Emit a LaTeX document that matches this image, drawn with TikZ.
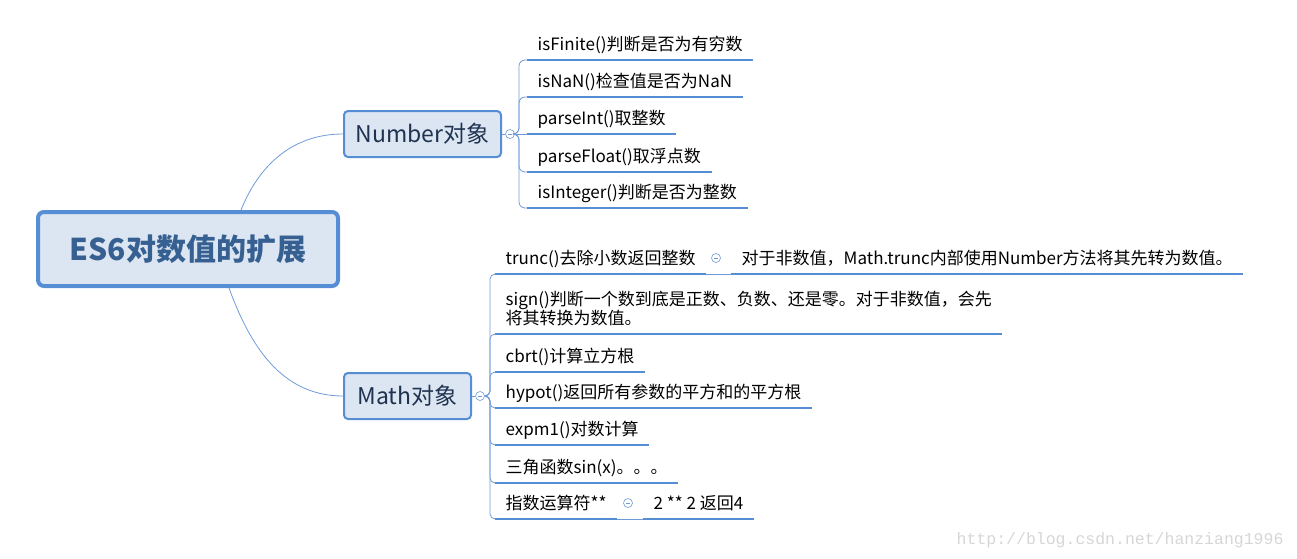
\documentclass[tikz,border=0pt]{standalone}
\usepackage{fontspec}
\setmainfont{Noto Sans CJK SC}
\newfontfamily\markfont{Liberation Mono}
\usetikzlibrary{calc}
\definecolor{boxB}{HTML}{558ED5}
\definecolor{boxF}{HTML}{DCE6F2}
\definecolor{rootT}{HTML}{366092}
\definecolor{topicT}{HTML}{1F3350}
\definecolor{linkB}{HTML}{6E9BD8}
\definecolor{markG}{HTML}{D6D6D6}

\begin{document}
\begin{tikzpicture}[x=1pt, y=1pt,
  rootbox/.style={draw=boxB, line width=4pt, fill=boxF, rounded corners=6pt,
    minimum width=300pt, minimum height=74pt, text=rootT,
    font=\bfseries\fontsize{30}{33}\selectfont},
  topic/.style={draw=boxB, line width=2pt, fill=boxF, rounded corners=4pt,
    minimum height=46pt, text=topicT, font=\fontsize{23}{26}\selectfont},
  leaf/.style={anchor=south west, align=left, inner xsep=10.5pt, inner ysep=5pt,
    text depth=4pt, font=\fontsize{17}{18}\selectfont},
  uline/.style={draw=boxB, line width=2.8pt},
  link/.style={draw=linkB, line width=0.8pt},
  fold/.style={circle, draw=linkB, fill=white, minimum size=9pt, inner sep=0pt,
    line width=0.6pt,
    path picture={\draw[linkB, line width=0.6pt]
      ([xshift=-2.2pt]path picture bounding box.center) --
      ([xshift=2.2pt]path picture bounding box.center);}}]
  \useasboundingbox (0,0) rectangle (1297,-558);

  \node[rootbox] (root) at (188,-249) {ES6对数值的扩展};
  \node[topic, minimum width=157pt] (num) at (422.5,-134) {Number对象};
  \node[topic, minimum width=127pt] (math) at (407.5,-396) {Math对象};

  \draw[link] ([xshift=53pt]root.north) to[out=68, in=180] (num.west);
  \draw[link] ([xshift=41pt]root.south) to[out=-70, in=180] (math.west);

  % Number branch
  \node[fold] (nfold) at (510,-134) {};
  \draw[link] (num.east) -- (nfold.west);
  \foreach \name/\y/\txt in {
    fin/60/isFinite()判断是否为有穷数,
    nan/97/isNaN()检查值是否为NaN,
    pint/134/parseInt()取整数,
    pflt/172/parseFloat()取浮点数,
    isint/208/isInteger()判断是否为整数}{
    \node[leaf] (\name) at (527,-\y) {\txt};
    \draw[uline] (\name.south west) -- (\name.south east);
  }
  \foreach \name in {fin,nan,pflt,isint}{
    \draw[link, rounded corners=6pt] (nfold.east) -- (519,-134) |- (\name.south west);
  }
  \draw[link] (nfold.east) -- (pint.south west);

  % Math branch
  \node[fold] (mfold) at (480,-396) {};
  \draw[link] (math.east) -- (mfold.west);
  \foreach \name/\y/\txt in {
    trunc/274/trunc()去除小数返回整数,
    sign/334/{sign()判断一个数到底是正数、负数、还是零。对于非数值，会先\\将其转换为数值。},
    cbrt/372/cbrt()计算立方根,
    hypot/408/hypot()返回所有参数的平方和的平方根,
    expm/445/expm1()对数计算,
    trig/483/三角函数sin(x)。。。,
    power/519/指数运算符**}{
    \node[leaf] (\name) at (495,-\y) {\txt};
    \draw[uline] (\name.south west) -- (\name.south east);
    \draw[link, rounded corners=5pt] (mfold.east) -- (490,-396) |- (\name.south west);
  }

  % notes
  \node[fold] (tfold) at (716,-258) {};
  \node[leaf] (tnote) at (731,-274) {对于非数值，Math.trunc内部使用Number方法将其先转为数值。};
  \draw[uline] (tnote.south west) -- (tnote.south east);
  \draw[link] (trunc.south east) -- (tnote.south west);

  \node[fold] (pfold) at (628,-503) {};
  \node[leaf] (pnote) at (643,-519) {2 ** 2 返回4};
  \draw[uline] (pnote.south west) -- (pnote.south east);
  \draw[link] (power.south east) -- (pnote.south west);

  \node[anchor=base east, text=markG, font=\markfont\fontsize{16.5}{18}\selectfont]
    (mark) at (1287,-544) {http://blog.csdn.net/hanziang1996};
\end{tikzpicture}
\end{document}
